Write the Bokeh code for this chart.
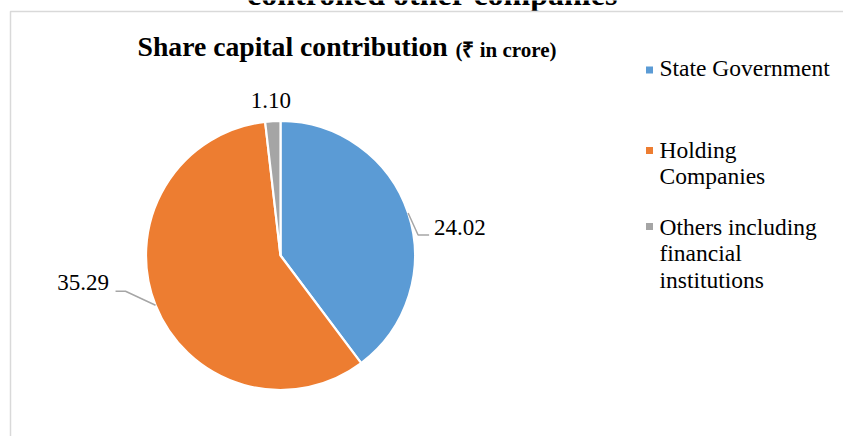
import numpy as np
from bokeh.plotting import figure
from bokeh.models import ColumnDataSource, GlobalInlineStyleSheet
from bokeh.core.properties import value
from bokeh.embed import file_html
from bokeh.resources import INLINE

# ---- data ----
categories = ["State Government", "Holding Companies", "Others including financial institutions"]
legend_lines = [["State Government"], ["Holding", "Companies"], ["Others including", "financial", "institutions"]]
values = [24.02, 35.29, 1.10]
value_labels = ["24.02", "35.29", "1.10"]
colors = ["#5B9BD5", "#ED7D31", "#A5A5A5"]
heading = "controlled other companies"
title_main = "Share capital contribution"
title_unit = "(\u20b9 in crore)"

W, H = 843, 436
SHIFT = 0.38  # baseline correction, fraction of font size


def Y(py):
    return H - py


def YB(py, size):
    # page baseline -> data y, corrected for the renderer's baseline placement
    return H - (py - SHIFT * size)


SERIF = value("Liberation Serif")

p = figure(width=W, height=H, x_range=(0, W), y_range=(0, H), min_border=0,
           toolbar_location=None, output_backend="svg",
           x_axis_location=None, y_axis_location=None,
           outline_line_color=None, background_fill_color="white",
           border_fill_color="white")
p.xgrid.visible = False
p.ygrid.visible = False
p.stylesheets = [GlobalInlineStyleSheet(css="html,body{margin:0 !important;padding:0;overflow:hidden;}")]

# heading of the page (clipped at top in the reference)
p.text(x=[432], y=[YB(6, 32)], text=[heading], text_font=SERIF, text_font_style="bold",
       text_font_size="32px", text_align="center", text_baseline="alphabetic", text_color="black")

# chart border
p.line(x=[10, 10, W], y=[Y(H), Y(11), Y(11)], line_color="#D9D9D9", line_width=1.5)

# chart title
p.text(x=[137], y=[YB(57, 27.7)], text=[title_main], text_font=SERIF, text_font_style="bold",
       text_font_size="27.7px", text_align="left", text_baseline="alphabetic", text_color="black")
p.text(x=[455], y=[YB(57, 21)], text=[title_unit], text_font=SERIF, text_font_style="bold",
       text_font_size="21px", text_align="left", text_baseline="alphabetic", text_color="black")

# pie
cx, cy, r = 280.0, Y(255), 134.5
vals = np.array(values)
fr = vals / vals.sum()
cum = np.concatenate([[0.0], np.cumsum(fr)])
start = np.pi / 2 - 2 * np.pi * cum[:-1]
end = np.pi / 2 - 2 * np.pi * cum[1:]
src = ColumnDataSource(dict(start=start, end=end, color=colors, cat=categories, val=vals))
p.wedge(x=cx, y=cy, radius=r, start_angle="start", end_angle="end", direction="clock",
        fill_color="color", line_color="white", line_width=2.2, source=src)

mid = (start + end) / 2
ex = cx + r * np.cos(mid)
ey = cy + r * np.sin(mid)

# leader lines (blue and orange)
lead_col = "#A6A6A6"
p.line(x=[ex[0], ex[0] + 10, ex[0] + 21], y=[ey[0], ey[0] - 22, ey[0] - 22],
       line_color=lead_col, line_width=1.5)
p.line(x=[ex[1], ex[1] - 30, ex[1] - 40], y=[ey[1], ey[1] + 14, ey[1] + 14],
       line_color=lead_col, line_width=1.5)

# data labels
LS = 23
lab_x = [ex[0] + 26, ex[1] - 46.5, ex[2] - 2]
lab_y = [ey[0] - 23.4, ey[1] + 13.6, ey[2] + 11.7]
aligns = ["left", "right", "center"]
for i in range(3):
    p.text(x=[lab_x[i]], y=[lab_y[i] + SHIFT * LS], text=[value_labels[i]], text_font=SERIF,
           text_font_size=f"{LS}px", text_align=aligns[i], text_baseline="alphabetic",
           text_color="black")

# legend
GS = 23.5
leg_sq_y = [69.5, 150, 226]
leg_base = [76, 158, 235]
line_h = 26.5
p.scatter(x=[649] * 3, y=[Y(v) for v in leg_sq_y], marker="square", size=7,
          fill_color=colors, line_color=None)
for i, lines in enumerate(legend_lines):
    for j, t in enumerate(lines):
        p.text(x=[659], y=[YB(leg_base[i] + j * line_h, GS)], text=[t], text_font=SERIF,
               text_font_size=f"{GS}px", text_align="left", text_baseline="alphabetic",
               text_color="black")

open("out.html", "w").write(file_html(p, INLINE))
